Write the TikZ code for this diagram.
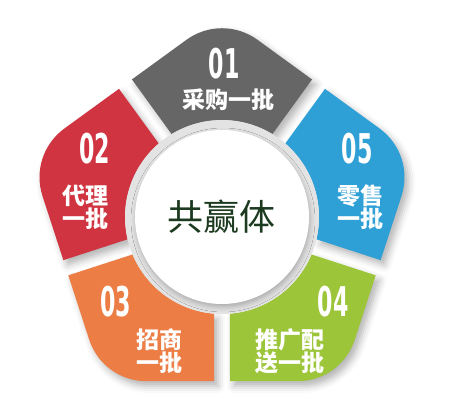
\documentclass[tikz,border=0pt]{standalone}
\usepackage{fontspec}
\newfontfamily\cjk{Noto Sans CJK SC}
\newfontfamily\numfont{DejaVu Sans Condensed}
\usetikzlibrary{calc,shadows.blur}
\definecolor{segGray}{RGB}{102,102,102}
\definecolor{segRed}{RGB}{208,52,64}
\definecolor{segBlue}{RGB}{46,160,214}
\definecolor{segGreen}{RGB}{156,197,58}
\definecolor{segOrange}{RGB}{236,125,68}
\definecolor{hubGreen}{RGB}{28,58,31}
\pgfdeclareradialshading{hubring}{\pgfpoint{0bp}{0bp}}{color(0bp)=(white); color(36bp)=(white); color(37bp)=(gray!16); color(44bp)=(gray!5); color(50bp)=(white)}

\begin{document}
\begin{tikzpicture}[x=1pt,y=1pt,
  segment/.style={blur shadow={shadow xshift=4pt,shadow yshift=-5pt,
    shadow blur radius=7pt,shadow opacity=30}},
  numtext/.style={text=white,inner sep=0pt,
    font=\numfont\bfseries\fontsize{41}{41}\selectfont},
  segtext/.style={text=white,inner sep=0pt,align=center,
    font=\cjk\bfseries\fontsize{23}{23}\selectfont},
  hubtext/.style={text=hubGreen,font=\cjk\fontsize{36}{36}\selectfont}
]
  \useasboundingbox (-222,-198) rectangle (233,217);

  % five pieces of the pentagon
  \foreach \a/\c in {90/segGray,162/segRed,234/segOrange,306/segGreen,18/segBlue}{
    \coordinate (v) at (\a:203);
    \coordinate (ta) at ($(v)!44pt!(\a-36:164.2)$);
    \coordinate (tb) at ($(v)!44pt!(\a+36:164.2)$);
    \fill[\c,segment] (\a-33.21:164.4) -- (ta)
      .. controls ($(ta)!0.6!(v)$) and ($(tb)!0.6!(v)$) .. (tb)
      -- (\a+33.21:164.4) -- (\a+31.27:97)
      arc[start angle=\a+31.27,end angle=\a-31.27,radius=97] -- cycle;
  }

  % hub
  \fill[gray!22] (0,0) circle[radius=97];
  \fill[white,blur shadow={shadow xshift=1pt,shadow yshift=-3pt,
    shadow blur radius=5pt,shadow opacity=25}] (0,0) circle[radius=87];
  \shade[shading=hubring] (0,0) circle[radius=86];
  \node[hubtext] (hub) at (0,0) {共赢体};

  \node[numtext] (n1) at (2,153) {\scalebox{0.6}[1]{01}};
  \node[segtext] (t1) at (6,117) {采购一批};
  \node[numtext] (n2) at (-127,68) {\scalebox{0.6}[1]{02}};
  \node[segtext] (t2) at (-136,10) {代理\\一批};
  \node[numtext] (n5) at (135,68) {\scalebox{0.6}[1]{05}};
  \node[segtext] (t5) at (138,10) {零售\\一批};
  \node[numtext] (n3) at (-106,-85) {\scalebox{0.6}[1]{03}};
  \node[segtext] (t3) at (-62,-134) {招商\\一批};
  \node[numtext] (n4) at (111,-85) {\scalebox{0.6}[1]{04}};
  \node[segtext] (t4) at (68,-134) {推广配\\送一批};
\end{tikzpicture}
\end{document}
